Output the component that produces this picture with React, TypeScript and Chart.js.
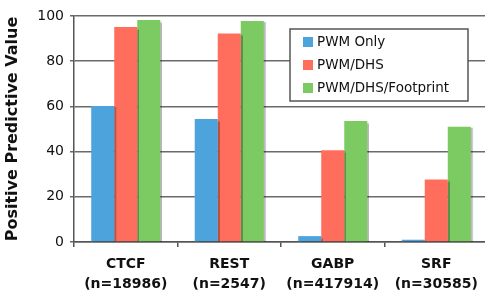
import React, { useEffect, useRef } from "react";
import { Chart, registerables } from "chart.js";

Chart.register(...registerables);

const categories: string[][] = [
  ["CTCF", "(n=18986)"],
  ["REST", "(n=2547)"],
  ["GABP", "(n=417914)"],
  ["SRF", "(n=30585)"],
];
const seriesLabels = ["PWM Only", "PWM/DHS", "PWM/DHS/Footprint"];
const pwmOnly = [60.2, 54.4, 2.6, 1.0];
const pwmDhs = [95.1, 92.3, 40.6, 27.7];
const pwmDhsFootprint = [98.2, 97.8, 53.5, 51.0];
const yTicks = [0, 20, 40, 60, 80, 100];
const colors = ["#4DA3DB", "#FF6E5C", "#7CCB62"];
const yTitle = "Positive Predictive Value";

const shadowPlugin = {
  id: "barShadow",
  beforeDatasetsDraw(chart: any) {
    const ctx = chart.ctx;
    ctx.save();
    ctx.shadowColor = "rgba(0,0,0,0.28)";
    ctx.shadowOffsetX = 2;
    ctx.shadowOffsetY = 1;
    ctx.shadowBlur = 1;
  },
  afterDatasetsDraw(chart: any) {
    chart.ctx.restore();
  },
};

const boxLegendPlugin = {
  id: "boxLegend",
  afterDraw(chart: any) {
    const ctx = chart.ctx;
    const x = 290, y = 29, w = 178, h = 72;
    ctx.save();
    ctx.fillStyle = "#ffffff";
    ctx.fillRect(x, y, w, h);
    ctx.strokeStyle = "#555555";
    ctx.lineWidth = 1.5;
    ctx.strokeRect(x, y, w, h);
    ctx.font = "13.5px 'DejaVu Sans', Verdana, sans-serif";
    ctx.textBaseline = "middle";
    chart.data.datasets.forEach((ds: any, i: number) => {
      const cy = y + 13 + i * 23;
      ctx.fillStyle = ds.backgroundColor;
      ctx.fillRect(x + 13, cy - 5, 10, 10);
      ctx.fillStyle = "#111111";
      ctx.fillText(ds.label, x + 27, cy);
    });
    ctx.restore();
  },
};

export default function App() {
  const ref = useRef<HTMLCanvasElement>(null);
  useEffect(() => {
    if (!ref.current) return;
    const data = [pwmOnly, pwmDhs, pwmDhsFootprint];
    const chart = new Chart(ref.current, {
      type: "bar",
      data: {
        labels: categories,
        datasets: data.map((d, i) => ({
          label: seriesLabels[i],
          data: d,
          backgroundColor: colors[i],
          borderWidth: 0,
          categoryPercentage: 0.667,
          barPercentage: 1,
        })),
      },
      options: {
        responsive: false,
        animation: false,
        devicePixelRatio: 1,
        layout: { padding: { top: 16, right: 2, left: 0, bottom: 0 } },
        plugins: {
          legend: { display: false },
          tooltip: { enabled: false },
        },
        scales: {
          x: {
            offset: true,
            grid: {
              offset: true,
              drawOnChartArea: false,
              drawTicks: true,
              tickLength: 5,
              color: "#555555",
              lineWidth: 1.5,
            },
            border: { display: true, color: "#555555", width: 1.5 },
            ticks: {
              color: "#111111",
              padding: 7.5,
              font: { family: "'DejaVu Sans', Verdana, sans-serif", size: 14, weight: "bold", lineHeight: 1.4 },
              maxRotation: 0,
              autoSkip: false,
            },
            afterFit(scale: any) {
              scale.height = 49;
            },
          },
          y: {
            min: 0,
            max: 100,
            afterBuildTicks(scale: any) {
              scale.ticks = yTicks.map((v) => ({ value: v }));
            },
            grid: {
              color: "#6a6a6a",
              lineWidth: 1.5,
              tickLength: 4,
            },
            border: { display: true, color: "#555555", width: 1.5 },
            ticks: {
              color: "#111111",
              padding: 6,
              font: { family: "'DejaVu Sans', Verdana, sans-serif", size: 14 },
            },
            title: {
              display: true,
              text: yTitle,
              color: "#111111",
              padding: { top: 3, bottom: 0 },
              font: { family: "'DejaVu Sans', Verdana, sans-serif", size: 16, weight: "bold" },
            },
            afterFit(scale: any) {
              scale.width = 74;
            },
          },
        },
      },
      plugins: [shadowPlugin, boxLegendPlugin],
    });
    return () => chart.destroy();
  }, []);
  return (
    <div
      style={{
        position: "fixed",
        left: 0,
        top: 0,
        width: 485,
        height: 291,
        overflow: "hidden",
        background: "#ffffff",
      }}
    >
      <canvas ref={ref} width={490} height={291} style={{ display: "block" }} />
    </div>
  );
}
